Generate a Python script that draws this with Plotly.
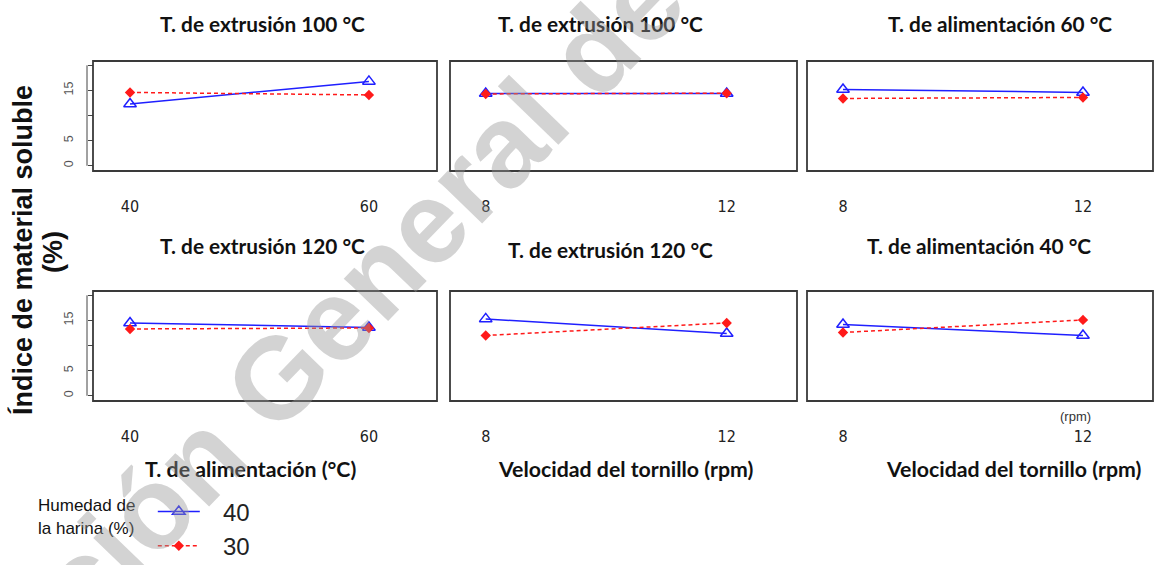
import plotly.graph_objects as go

W, H = 1154, 565

# ---------------- data ----------------
humedad = ["40", "30"]
x_alim = [40, 60]          # T. de alimentación (°C)
x_vel = [8, 12]            # Velocidad del tornillo (rpm)
x_alim_ticks = ["40", "60"]
x_vel_ticks = ["8", "12"]

# Índice de material soluble (%) : humedad 40 (blue) / 30 (red)
p1_h40 = [12.3, 16.8]; p1_h30 = [14.6, 14.1]   # T. extrusión 100 °C vs T. alimentación
p2_h40 = [14.4, 14.4]; p2_h30 = [14.3, 14.45]  # T. extrusión 100 °C vs velocidad
p3_h40 = [15.2, 14.6]; p3_h30 = [13.4, 13.6]   # T. alimentación 60 °C vs velocidad
p4_h40 = [14.5, 13.6]; p4_h30 = [13.3, 13.5]   # T. extrusión 120 °C vs T. alimentación
p5_h40 = [15.3, 12.4]; p5_h30 = [12.0, 14.5]   # T. extrusión 120 °C vs velocidad
p6_h40 = [14.2, 12.0]; p6_h30 = [12.6, 15.1]   # T. alimentación 40 °C vs velocidad

titles = ["T. de extrusión 100 °C", "T. de extrusión 100 °C", "T. de alimentación 60 °C",
          "T. de extrusión 120 °C", "T. de extrusión 120 °C", "T. de alimentación 40 °C"]
xlabels = ["T. de alimentación (°C)", "Velocidad del tornillo (rpm)", "Velocidad del tornillo (rpm)"]
y_tickvals = [0, 5, 10, 15, 20]
y_ticktext = ["0", "5", "", "15", ""]

panels = [
    (x_alim, x_alim_ticks, p1_h40, p1_h30),
    (x_vel, x_vel_ticks, p2_h40, p2_h30),
    (x_vel, x_vel_ticks, p3_h40, p3_h30),
    (x_alim, x_alim_ticks, p4_h40, p4_h30),
    (x_vel, x_vel_ticks, p5_h40, p5_h30),
    (x_vel, x_vel_ticks, p6_h40, p6_h30),
]

# ---------------- layout geometry (px) ----------------
col_px = [(93, 437), (450, 797), (807, 1153)]
row_px = [(61, 171), (291, 401)]
xranges = [[36.9, 65.7], [7.407, 13.167], [7.4, 13.167]]
yrange = [-1.05, 20.86]

fig = go.Figure()
layout = dict(width=W, height=H, margin=dict(l=0, r=0, t=0, b=0, autoexpand=False),
              paper_bgcolor="white", plot_bgcolor="white", showlegend=True)
shapes = []
annotations = []

blue = "#1f1fff"
red = "#ff1a1a"

for i, (xv, xt, h40, h30) in enumerate(panels):
    r, c = divmod(i, 3)
    n = i + 1
    xa = "x" if n == 1 else f"x{n}"
    ya = "y" if n == 1 else f"y{n}"
    x0, x1 = col_px[c]
    yt, yb = row_px[r]
    layout[f"xaxis{n}" if n > 1 else "xaxis"] = dict(
        domain=[x0 / W, x1 / W], range=xranges[c], anchor=ya,
        showgrid=False, zeroline=False, showline=False, ticks="",
        tickvals=xv, ticktext=xt, ticklabelstandoff=24,
        tickfont=dict(family="Liberation Sans Narrow, Arial Narrow, DejaVu Sans Condensed, sans-serif",
                      size=16, color="#222"))
    ydict = dict(domain=[1 - yb / H, 1 - yt / H], range=yrange,
                 showgrid=False, zeroline=False, showline=False)
    if c == 0:
        ydict.update(anchor="free", position=87 / W, ticks="inside", ticklen=5,
                     tickwidth=1, tickcolor="#444", tickvals=y_tickvals,
                     ticktext=y_ticktext, tickangle=-90, ticklabelstandoff=12,
                     tickfont=dict(family="Liberation Sans, Arial, sans-serif",
                                   size=12.5, color="#555"))
        shapes.append(dict(type="line", xref="paper", yref=ya,
                           x0=87 / W, x1=87 / W, y0=0, y1=20,
                           line=dict(color="#444", width=1)))
    else:
        ydict.update(anchor=xa, showticklabels=False, ticks="")
    layout[f"yaxis{n}" if n > 1 else "yaxis"] = ydict

    shapes.append(dict(type="rect", xref=f"{xa} domain", yref=f"{ya} domain",
                       x0=0, x1=1, y0=0, y1=1, line=dict(color="#3a3a3a", width=1.8)))

    fig.add_trace(go.Scatter(
        x=xv, y=h40, xaxis=xa, yaxis=ya, mode="lines+markers", name=humedad[0],
        legendgroup="h40", showlegend=(i == 0),
        line=dict(color=blue, width=1.5),
        marker=dict(symbol="triangle-up-open", size=11, color=blue, line=dict(width=1.5))))
    fig.add_trace(go.Scatter(
        x=xv, y=h30, xaxis=xa, yaxis=ya, mode="lines+markers", name=humedad[1],
        legendgroup="h30", showlegend=(i == 0),
        line=dict(color=red, width=1.5, dash="4px,3px"),
        marker=dict(symbol="diamond", size=8, color=red)))

# legend labels padded so the text sits where the reference has it
for tr in fig.data[:2]:
    tr.name = "\u00a0\u00a0\u2009" + tr.name

# panel titles
title_pos = [(262, 23), (600, 23), (1000, 23), (262, 246), (610, 249), (979, 246)]
tfont = dict(family="Lato, Carlito, Calibri, sans-serif", size=20.8, color="#111")
for t, (px, py) in zip(titles, title_pos):
    annotations.append(dict(text=f"<b>{t}</b>", x=px / W, y=1 - py / H, xref="paper", yref="paper",
                            showarrow=False, xanchor="center", yanchor="middle", font=tfont))
# bottom axis labels
bfont = dict(family="Lato, Carlito, Calibri, sans-serif", size=21.3, color="#111")
for t, px in zip(xlabels, [250, 625, 1013]):
    annotations.append(dict(text=f"<b>{t}</b>", x=px / W, y=1 - 469 / H, xref="paper", yref="paper",
                            showarrow=False, xanchor="center", yanchor="middle", font=bfont))
# y title
yfont = dict(family="Liberation Sans, Arial, sans-serif", size=27, color="#111")
annotations.append(dict(text="<b>Índice de material soluble</b>", x=22 / W, y=1 - 250 / H,
                        xref="paper", yref="paper", showarrow=False, textangle=-90,
                        xanchor="center", yanchor="middle", font=yfont))
annotations.append(dict(text="<b>(%)</b>", x=53 / W, y=1 - 252 / H,
                        xref="paper", yref="paper", showarrow=False, textangle=-90,
                        xanchor="center", yanchor="middle", font=yfont))
# (rpm)
annotations.append(dict(text="(rpm)", x=1075 / W, y=1 - 416 / H, xref="paper", yref="paper",
                        showarrow=False, xanchor="center", yanchor="middle",
                        font=dict(family="Liberation Sans Narrow, Arial Narrow, sans-serif",
                                  size=13, color="#333")))
# watermark
annotations.append(dict(text="<b>Dirección General de Bibliotecas</b>", x=486 / W, y=1 - 162 / H,
                        xref="paper", yref="paper", showarrow=False, textangle=-46,
                        xanchor="center", yanchor="middle",
                        font=dict(family="Liberation Sans, Arial, sans-serif", size=116,
                                  color="rgba(150,150,150,0.42)")))

layout["shapes"] = shapes
layout["annotations"] = annotations
layout["legend"] = dict(
    x=36 / W, y=-0.006, xanchor="left", yanchor="bottom",
    bgcolor="rgba(0,0,0,0)", borderwidth=0, itemwidth=42, tracegroupgap=0,
    title=dict(text="Humedad de\u00a0\u00a0<br>la harina (%)", side="left",
               font=dict(family="Liberation Sans, Arial, sans-serif", size=17, color="#111")),
    font=dict(family="Liberation Sans, Arial, sans-serif", size=24, color="#222"))
fig.update_layout(**layout)
fig.write_html("out.html")
